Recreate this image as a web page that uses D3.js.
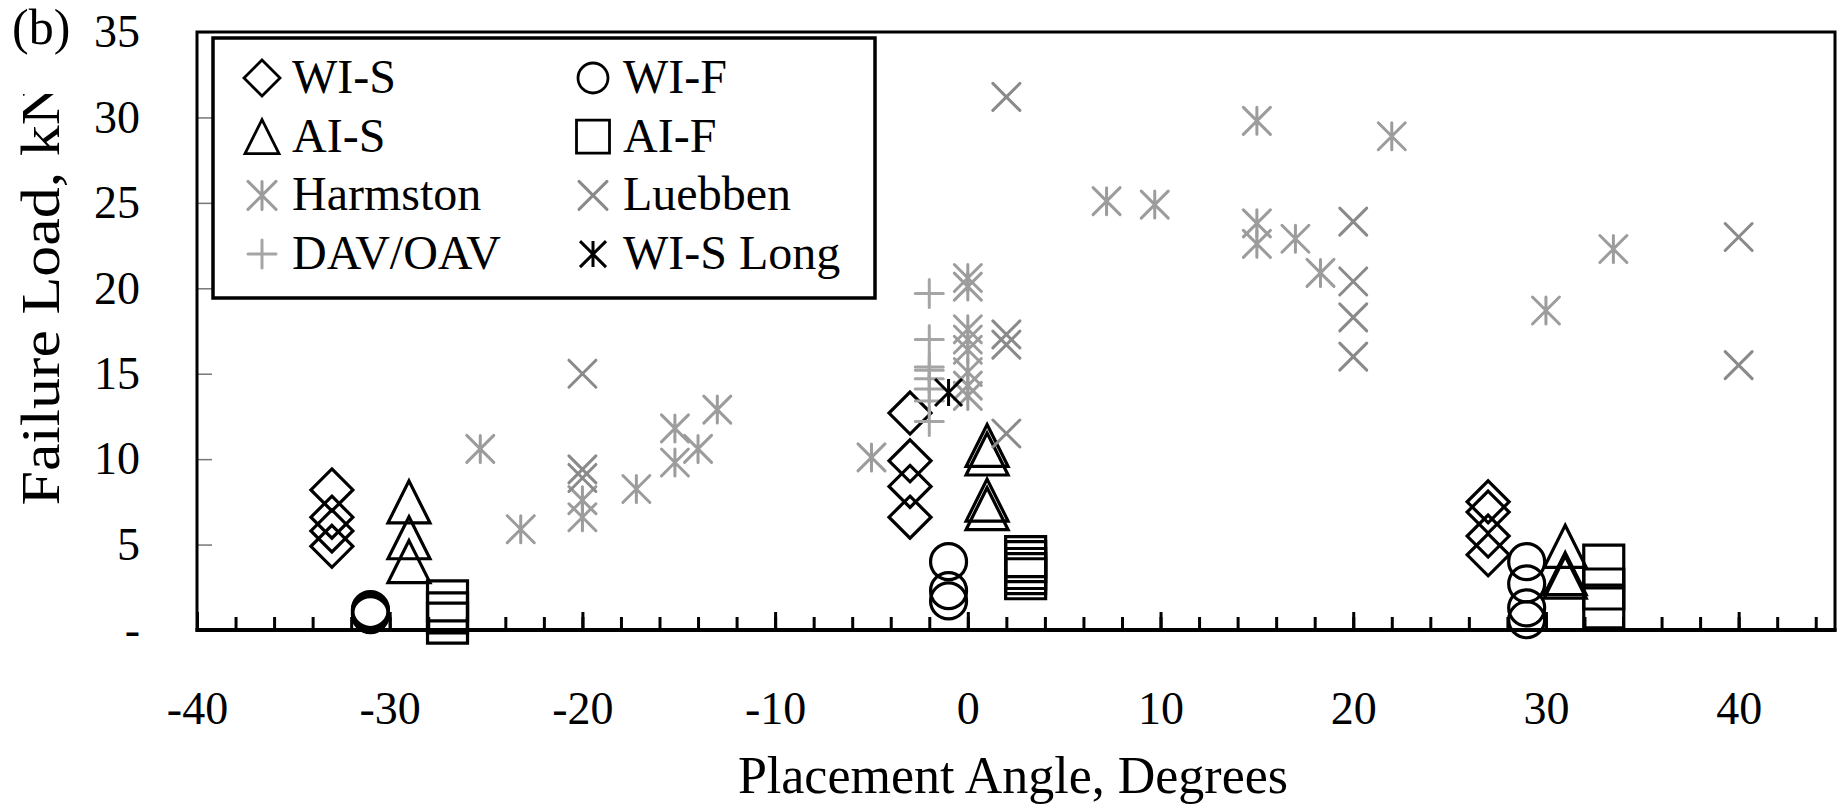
<!DOCTYPE html>
<html>
<head>
<meta charset="utf-8">
<script src="https://cdn.jsdelivr.net/npm/d3@7"></script>
<style>
  html, body { margin: 0; padding: 0; background: #fff; }
  svg text { font-family: "Liberation Serif", "Times New Roman", serif; fill: #000; }
</style>
</head>
<body>
<svg id="chart" width="1841" height="805"></svg>
<script>
// series: [placement angle (deg), failure load (kN)]
const wiS = [[-33, 8.2], [-33, 6.6], [-33, 5.8], [-33, 4.9],
             [-3, 12.7], [-3, 9.9], [-3, 8.4], [-3, 6.6],
             [27, 7.5], [27, 6.9], [27, 5.5], [27, 4.4]];
const wiF = [[-31, 0.9], [-31, 1.0], [-31, 1.1], [-31, 1.2],
             [-1, 4.0], [-1, 2.3], [-1, 1.7],
             [29, 4.0], [29, 2.7], [29, 1.3], [29, 0.6]];
const aiS = [[-29, 7.5], [-29, 5.4], [-29, 4.0],
             [1, 10.8], [1, 10.3], [1, 7.6], [1, 7.1],
             [31, 4.9], [31, 3.3], [31, 3.1]];
const aiF = [[-27, 1.7], [-27, 1.0], [-27, 0.4],
             [3, 4.3], [3, 4.0], [3, 3.6], [3, 3.3], [3, 3.0],
             [33, 3.8], [33, 2.4], [33, 1.3]];
const harmston = [[-25.3, 10.6], [-23.2, 5.9], [-20, 7.6], [-20, 6.6], [-17.2, 8.25],
                  [-15.2, 11.8], [-15.2, 9.8], [-14, 10.6], [-13, 12.9], [-5, 10.1],
                  [0, 20.6], [0, 20.1], [0, 17.6], [0, 17.0], [0, 16.4], [0, 15.1], [0, 14.3], [0, 13.7],
                  [7.2, 25.1], [9.7, 24.9], [15, 29.8], [15, 23.8], [15, 22.6], [17, 22.9],
                  [18.3, 20.9], [22, 28.9], [30, 18.7], [33.5, 22.3]];
const luebben = [[-20, 15.0], [-20, 9.4], [-20, 8.9],
                 [2, 31.2], [2, 17.3], [2, 16.7], [2, 11.5],
                 [20, 23.9], [20, 20.4], [20, 18.3], [20, 16.0],
                 [40, 23.0], [40, 15.5]];
const davOav = [[-2, 19.7], [-2, 17.0], [-2, 15.4], [-2, 15.2], [-2, 14.7], [-2, 14.1], [-2, 13.4], [-2, 12.2]];
const wiSLong = [[-1, 13.9]];

const xMajorTicks = [-40, -30, -20, -10, 0, 10, 20, 30, 40];
const xMinorTicks = d3.range(-40, 45, 2);
const yTicks = [0, 5, 10, 15, 20, 25, 30, 35];

const series = [
  {name: "WI-S",      data: wiS,      shape: "diamond",  color: "#000",    size: 42, lsize: 36, width: 3.2},
  {name: "WI-F",      data: wiF,      shape: "circle",   color: "#000",    size: 36, lsize: 30, width: 3.2},
  {name: "AI-S",      data: aiS,      shape: "triangle", color: "#000",    size: 42, lsize: 34, width: 3.2},
  {name: "AI-F",      data: aiF,      shape: "square",   color: "#000",    size: 40, lsize: 33, width: 3.2},
  {name: "Harmston",  data: harmston, shape: "star",     color: "#9c9c9c", size: 27, lsize: 28, width: 3},
  {name: "Luebben",   data: luebben,  shape: "x",        color: "#8a8a8a", size: 27, lsize: 28, width: 3},
  {name: "DAV/OAV",   data: davOav,   shape: "plus",     color: "#a5a5a5", size: 28, lsize: 28, width: 3},
  {name: "WI-S Long", data: wiSLong,  shape: "star",     color: "#000",    size: 27, lsize: 26, width: 3}
];

const svg = d3.select("#chart");
const plot = {left: 197, right: 1835, top: 32, bottom: 630};

const x = d3.scaleLinear().domain([-40, 45]).range([plot.left, plot.right]);
const y = d3.scaleLinear().domain([0, 35]).range([plot.bottom, plot.top]);

function shapePath(type, s) {
  const h = s / 2;
  if (type === "diamond")  return `M0,${-h}L${h},0L0,${h}L${-h},0Z`;
  if (type === "triangle") return `M0,${-h}L${h},${h}L${-h},${h}Z`;
  if (type === "square")   return `M${-h},${-h}H${h}V${h}H${-h}Z`;
  if (type === "x")        return `M${-h},${-h}L${h},${h}M${h},${-h}L${-h},${h}`;
  if (type === "plus")     return `M${-h},0H${h}M0,${-h}V${h}`;
  if (type === "star")     return `M${-h},${-h}L${h},${h}M${h},${-h}L${-h},${h}M0,${-h}V${h}`;
  const p = d3.path();
  p.arc(0, 0, h, 0, 2 * Math.PI);
  p.closePath();
  return p.toString();
}

// y axis ticks and labels
const yAxis = d3.axisLeft(y)
  .tickValues(yTicks)
  .tickSize(-15)
  .tickPadding(57)
  .tickFormat(d => d === 0 ? "-" : d);

const gy = svg.append("g")
  .attr("transform", `translate(${plot.left},0)`)
  .call(yAxis);
gy.select(".domain").remove();
gy.selectAll(".tick line").attr("stroke", "#777").attr("stroke-width", 1.5);
gy.selectAll(".tick text")
  .attr("font-size", 46)
  .attr("dy", "0.32em")
  .style("font-family", "'Liberation Serif', serif");

// x axis: minor and major ticks point up
const gxMinor = svg.append("g")
  .attr("transform", `translate(0,${plot.bottom})`)
  .call(d3.axisBottom(x).tickValues(xMinorTicks).tickSize(-13).tickFormat(""));
gxMinor.select(".domain").remove();
gxMinor.selectAll(".tick line").attr("stroke", "#000").attr("stroke-width", 3);

const gxMajor = svg.append("g")
  .attr("transform", `translate(0,${plot.bottom})`)
  .call(d3.axisBottom(x).tickValues(xMajorTicks).tickSize(-18).tickPadding(61).tickFormat(d => d));
gxMajor.select(".domain").remove();
gxMajor.selectAll(".tick line").attr("stroke", "#000").attr("stroke-width", 3);
gxMajor.selectAll(".tick text")
  .attr("font-size", 46)
  .style("font-family", "'Liberation Serif', serif");

// frame
svg.append("rect")
  .attr("x", plot.left).attr("y", plot.top)
  .attr("width", plot.right - plot.left).attr("height", plot.bottom - plot.top)
  .attr("fill", "none").attr("stroke", "#000").attr("stroke-width", 3);
svg.append("line")
  .attr("x1", plot.left - 1.5).attr("x2", plot.right + 1.5)
  .attr("y1", plot.bottom).attr("y2", plot.bottom)
  .attr("stroke", "#000").attr("stroke-width", 4);

// data markers
const gm = svg.append("g");
series.forEach(s => {
  gm.append("g")
    .selectAll("path")
    .data(s.data)
    .join("path")
    .attr("transform", d => `translate(${x(d[0])},${y(d[1])})`)
    .attr("d", shapePath(s.shape, s.size))
    .attr("fill", "none")
    .attr("stroke", s.color)
    .attr("stroke-width", s.width)
    .attr("stroke-linecap", s.color === "#000" ? "butt" : "round")
    .attr("stroke-linejoin", "miter");
});

// legend
const legend = svg.append("g");
legend.append("rect")
  .attr("x", 213).attr("y", 38)
  .attr("width", 662).attr("height", 260)
  .attr("fill", "#fff").attr("stroke", "#000").attr("stroke-width", 3.5);

const colSymbol = [262, 593];
const colText = [292, 623];
series.forEach((s, i) => {
  const col = i % 2, row = Math.floor(i / 2);
  const cy = 78 + row * 58.7;
  legend.append("path")
    .attr("transform", `translate(${colSymbol[col]},${cy})`)
    .attr("d", shapePath(s.shape, s.lsize))
    .attr("fill", "none")
    .attr("stroke", s.color)
    .attr("stroke-width", s.shape === "star" || s.shape === "x" || s.shape === "plus" ? 3 : 2.8)
    .attr("stroke-linecap", s.color === "#000" ? "butt" : "round");
  legend.append("text")
    .attr("x", colText[col]).attr("y", cy + 15)
    .attr("font-size", 48)
    .text(s.name);
});

// titles
svg.append("text")
  .attr("x", 12).attr("y", 44)
  .attr("font-size", 50)
  .text("(b)");

svg.append("text")
  .attr("x", 1013).attr("y", 793)
  .attr("text-anchor", "middle")
  .attr("font-size", 52)
  .text("Placement Angle, Degrees");

svg.append("clipPath").attr("id", "ytitle-clip")
  .append("rect").attr("x", 0).attr("y", 94).attr("width", 120).attr("height", 520);
svg.append("g").attr("clip-path", "url(#ytitle-clip)")
  .append("text")
  .attr("transform", "translate(59,293) rotate(-90)")
  .attr("text-anchor", "middle")
  .attr("font-size", 54)
  .attr("textLength", 425)
  .attr("lengthAdjust", "spacingAndGlyphs")
  .text("Failure Load, kN");
</script>
</body>
</html>
